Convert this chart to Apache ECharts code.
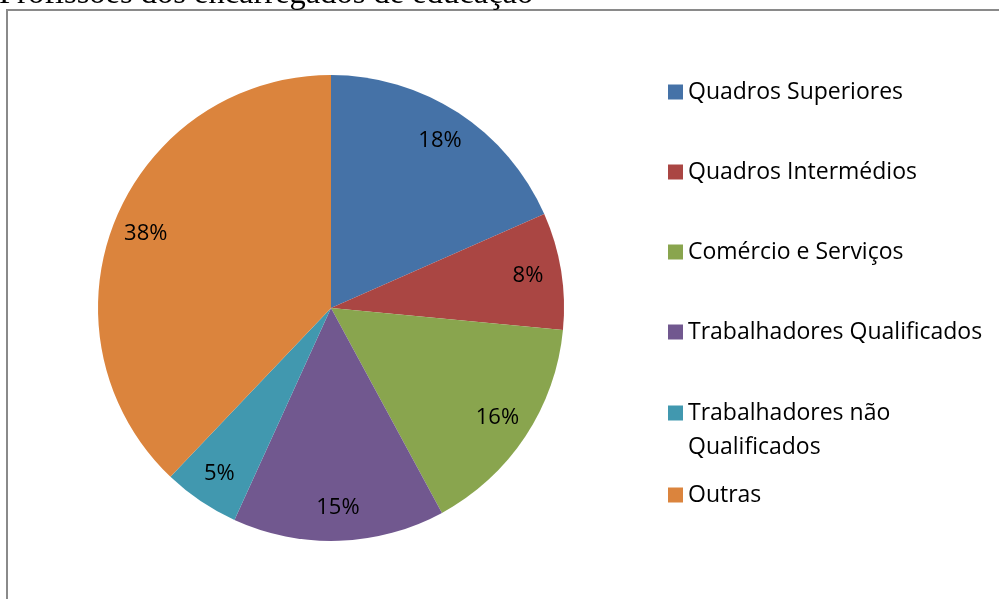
<!DOCTYPE html>
<html>
<head>
<meta charset="utf-8">
<script src="https://cdn.jsdelivr.net/npm/echarts@6/dist/echarts.min.js"></script>
<style>
  html, body { margin: 0; padding: 0; background: #fff; }
  #chart { width: 999px; height: 599px; }
</style>
</head>
<body>
<div id="chart"></div>
<script>
  // dados (percentagens aproximadas)
  var categorias = ['Quadros Superiores', 'Quadros Intermédios', 'Comércio e Serviços',
                    'Trabalhadores Qualificados', 'Trabalhadores não Qualificados', 'Outras'];
  var valores = [18.4, 8.1, 15.6, 14.7, 5.3, 37.9];
  var cores = ['#4572A7', '#AA4643', '#89A54E', '#71588F', '#4198AF', '#DB843D'];
  var titulo = 'Profissões dos encarregados de educação';

  var myChart = echarts.init(document.getElementById('chart'));

  var dados = categorias.map(function (nome, i) {
    return { name: nome, value: valores[i], itemStyle: { color: cores[i] } };
  });
  var dadosEtiquetas = categorias.map(function (nome, i) {
    return { name: nome, value: valores[i] };
  });

  var fonte = '"Open Sans", sans-serif';
  var legendaBase = {
    orient: 'vertical',
    left: 668,
    padding: 0,
    itemWidth: 15,
    itemHeight: 15,
    icon: 'rect',
    selectedMode: false,
    textStyle: { fontFamily: fonte, fontSize: 23, color: '#000', lineHeight: 30 }
  };

  var option = {
    animation: false,
    title: {
      text: titulo,
      left: -1,
      top: -22,
      padding: 0,
      textStyle: { fontFamily: '"Liberation Serif", serif', fontSize: 32.5, fontWeight: 'normal', color: '#000' }
    },
    graphic: [{
      type: 'rect',
      shape: { x: 7, y: 10, width: 1000, height: 600 },
      style: { fill: 'none', stroke: '#8a8a8a', lineWidth: 2 },
      silent: true
    }],
    legend: [
      Object.assign({}, legendaBase, {
        top: 77, itemGap: 50,
        data: categorias.slice(0, 4)
      }),
      Object.assign({}, legendaBase, {
        top: 362,
        data: [categorias[4]],
        textStyle: { fontFamily: fonte, fontSize: 23, color: '#000', lineHeight: 34 },
        formatter: function (name) {
          var k = name.lastIndexOf(' ');
          return '\n' + name.slice(0, k) + '\n' + name.slice(k + 1);
        }
      }),
      Object.assign({}, legendaBase, {
        top: 480,
        data: [categorias[5]]
      })
    ],
    series: [
      {
        type: 'pie',
        center: [331, 308],
        radius: [0, 233],
        startAngle: 90,
        clockwise: true,
        silent: true,
        label: { show: false },
        labelLine: { show: false },
        itemStyle: { borderWidth: 0 },
        data: dados
      },
      {
        // série transparente só para posicionar as percentagens
        type: 'pie',
        center: [331, 308],
        radius: [158, 235],
        startAngle: 90,
        clockwise: true,
        silent: true,
        percentPrecision: 0,
        itemStyle: { color: 'rgba(0,0,0,0)', borderWidth: 0 },
        label: {
          show: true,
          position: 'inside',
          formatter: '{d}%',
          fontFamily: fonte,
          fontSize: 22,
          color: '#000'
        },
        labelLine: { show: false },
        data: dadosEtiquetas
      }
    ]
  };

  myChart.setOption(option);
  window.addEventListener('resize', function () { myChart.resize(); });
</script>
</body>
</html>
